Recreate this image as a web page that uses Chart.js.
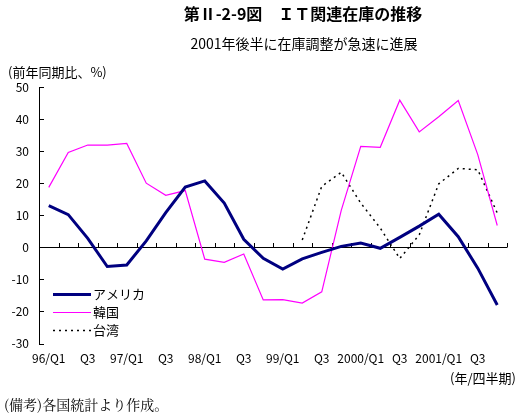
<!DOCTYPE html>
<html>
<head>
<meta charset="utf-8">
<script src="https://cdn.jsdelivr.net/npm/chart.js@4/dist/chart.umd.min.js"></script>
<style>
  body { margin: 0; background: #fff; }
  #wrap { position: relative; width: 527px; height: 415px; font-family: "Noto Sans CJK JP", sans-serif; color: #000; }
  #chart { position: absolute; left: 0; top: 0; }
  .txt { position: absolute; white-space: nowrap; line-height: 1; }
</style>
</head>
<body>
<div id="wrap">
  <canvas id="chart" width="527" height="415"></canvas>
  <div class="txt" style="left:0;width:606px;text-align:center;top:5px;font-size:16px;font-weight:bold;">第Ⅱ-2-9図　ＩＴ関連在庫の推移</div>
  <div class="txt" style="left:0;width:608px;text-align:center;top:36px;font-size:14px;">2001年後半に在庫調整が急速に進展</div>
  <div class="txt" style="left:8px;top:65px;font-size:13px;">(前年同期比、%)</div>
  <div class="txt" style="right:11px;top:371px;font-size:13px;">(年/四半期)</div>
  <div class="txt" style="left:4px;top:397px;font-size:14px;font-family:'Noto Serif CJK JP','Noto Sans CJK JP',serif;">(備考)各国統計より作成。</div>
</div>
<script>
// quarters 96/Q1 .. 2001/Q4
const quarters = [
	'96/Q1', '96/Q2', '96/Q3', '96/Q4',
	'97/Q1', '97/Q2', '97/Q3', '97/Q4',
	'98/Q1', '98/Q2', '98/Q3', '98/Q4',
	'99/Q1', '99/Q2', '99/Q3', '99/Q4',
	'2000/Q1', '2000/Q2', '2000/Q3', '2000/Q4',
	'2001/Q1', '2001/Q2', '2001/Q3', '2001/Q4'
];
const tickLabels = [
	'96/Q1', '', 'Q3', '', '97/Q1', '', 'Q3', '', '98/Q1', '', 'Q3', '',
	'99/Q1', '', 'Q3', '', '2000/Q1', '', 'Q3', '', '2001/Q1', '', 'Q3', ''
];
const america = [13.0, 10.2, 2.8, -6.0, -5.5, 2.0, 10.8, 18.8, 20.7, 13.8, 2.5, -3.4,
	-6.8, -3.6, -1.6, 0.3, 1.3, -0.3, 3.1, 6.6, 10.3, 3.3, -6.5, -18.0];
const korea = [18.7, 29.6, 31.9, 31.9, 32.4, 20.0, 16.2, 17.7, -3.7, -4.7, -2.1, -16.4,
	-16.3, -17.4, -13.9, 11.5, 31.5, 31.2, 45.9, 36.0, 40.7, 45.8, 28.9, 6.8];
const taiwan = [null, null, null, null, null, null, null, null, null, null, null, null,
	null, 2.3, 19.0, 23.4, 13.8, 6.0, -3.5, 3.9, 19.8, 24.6, 24.2, 10.7];
const seriesNames = ['アメリカ', '韓国', '台湾'];

const FONT = '"Noto Sans CJK JP", sans-serif';

// zero line with upward ticks, inner y ticks
const axisPlugin = {
	id: 'axisPlugin',
	beforeDatasetsDraw(chart) {
		const ctx = chart.ctx;
		const x = chart.scales.x;
		const y = chart.scales.y;
		const y0 = y.getPixelForValue(0);
		ctx.save();
		ctx.strokeStyle = '#000';
		ctx.lineWidth = 1;
		ctx.beginPath();
		ctx.moveTo(x.left, Math.round(y0) + 0.5);
		ctx.lineTo(x.right, Math.round(y0) + 0.5);
		for (let i = 1; i <= quarters.length; i++) {
			let px = i < quarters.length
				? (x.getPixelForValue(i - 1) + x.getPixelForValue(i)) / 2
				: x.right;
			px = Math.round(px) + 0.5;
			ctx.moveTo(px, Math.round(y0) + 0.5);
			ctx.lineTo(px, Math.round(y0) - 4);
		}
		y.ticks.forEach(t => {
			const py = Math.round(y.getPixelForValue(t.value)) + 0.5;
			ctx.moveTo(x.left, py);
			ctx.lineTo(x.left + 5, py);
		});
		ctx.stroke();
		ctx.restore();
	},
	afterDraw(chart) {
		// legend in lower left of the plot
		const ctx = chart.ctx;
		const rows = [294, 312, 330];
		ctx.save();
		ctx.font = '13px ' + FONT;
		ctx.textBaseline = 'middle';
		ctx.fillStyle = '#000';
		chart.data.datasets.forEach((ds, i) => {
			ctx.beginPath();
			ctx.strokeStyle = ds.borderColor;
			ctx.lineWidth = ds.borderWidth;
			ctx.setLineDash(ds.borderDash || []);
			ctx.moveTo(53, rows[i] + 0.5);
			ctx.lineTo(91, rows[i] + 0.5);
			ctx.stroke();
			ctx.fillText(seriesNames[i], 93, rows[i]);
		});
		ctx.restore();
	}
};

new Chart(document.getElementById('chart'), {
	type: 'line',
	data: {
		labels: quarters,
		datasets: [
			{ label: seriesNames[0], data: america, borderColor: '#000080', borderWidth: 3, pointRadius: 0, tension: 0 },
			{ label: seriesNames[1], data: korea, borderColor: '#ff00ff', borderWidth: 1.2, pointRadius: 0, tension: 0 },
			{ label: seriesNames[2], data: taiwan, borderColor: '#000', borderWidth: 1.5, borderDash: [2, 4], pointRadius: 0, tension: 0 }
		]
	},
	options: {
		responsive: false,
		animation: false,
		layout: { padding: { left: 0, right: 20, top: 87, bottom: 0 } },
		plugins: { legend: { display: false }, tooltip: { enabled: false } },
		scales: {
			x: {
				offset: true,
				grid: { display: false, drawTicks: false },
				border: { display: false },
				ticks: {
					autoSkip: false,
					maxRotation: 0,
					padding: 8,
					color: '#000',
					font: { family: FONT, size: 12 },
					callback: (v, i) => tickLabels[i]
				},
				afterFit: s => { s.height = 71.5; }
			},
			y: {
				min: -30,
				max: 50,
				grid: { display: false, drawTicks: false },
				border: { display: true, color: '#000', width: 1 },
				ticks: {
					stepSize: 10,
					padding: 10,
					color: '#000',
					font: { family: FONT, size: 12 }
				},
				afterFit: s => { s.width = 39; }
			}
		}
	},
	plugins: [axisPlugin]
});
</script>
</body>
</html>
